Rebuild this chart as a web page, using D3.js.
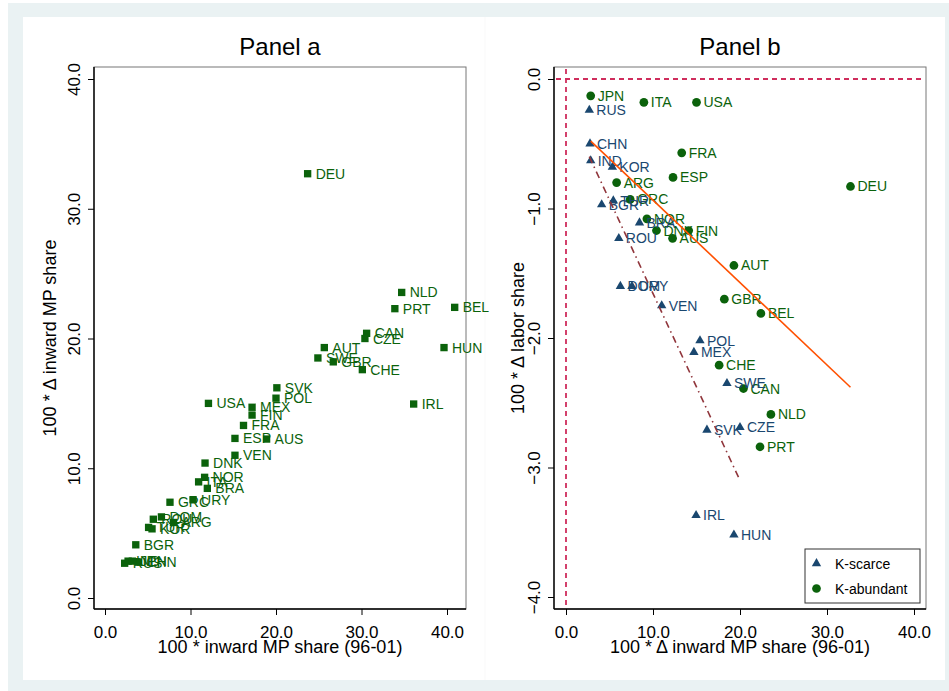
<!DOCTYPE html>
<html>
<head>
<meta charset="utf-8">
<script src="https://cdn.jsdelivr.net/npm/d3@7"></script>
<style>
  body { margin: 0; background: #fff; }
  text { font-family: "Liberation Sans", Arial, sans-serif; }
</style>
</head>
<body>
<svg id="chart" width="949" height="691"></svg>
<script>
// country codes
let countries = ['DEU', 'NLD', 'PRT', 'BEL', 'CAN', 'CZE', 'AUT', 'HUN', 'SWE', 'GBR',
    'CHE', 'SVK', 'POL', 'USA', 'MEX', 'FIN', 'IRL', 'FRA', 'ESP', 'AUS',
    'VEN', 'DNK', 'NOR', 'ITA', 'BRA', 'URY', 'GRC', 'DOM', 'ROU', 'ARG',
    'TUR', 'KOR', 'BGR', 'CHN', 'IND', 'JPN', 'RUS']
// 100 * inward MP share (96-01)  -> panel a x
let mpShare = [23.7, 34.7, 33.9, 40.9, 30.6, 30.4, 25.65, 39.65, 24.9, 26.7,
    30.1, 20.1, 20.0, 12.1, 17.2, 17.2, 36.1, 16.2, 15.2, 18.9,
    15.2, 11.7, 11.65, 10.95, 11.97, 10.3, 7.6, 6.6, 5.65, 8.0,
    5.1, 5.5, 3.6, 3.9, 2.7, 3.2, 2.3]
// 100 * change in inward MP share -> panel a y, panel b x
let mpChange = [32.7, 23.55, 22.3, 22.4, 20.4, 20.0, 19.3, 19.3, 18.5, 18.2,
    17.6, 16.2, 15.4, 15.0, 14.7, 14.1, 14.95, 13.3, 12.3, 12.25,
    11.0, 10.4, 9.3, 8.95, 8.45, 7.58, 7.38, 6.25, 6.07, 5.82,
    5.44, 5.33, 4.1, 2.76, 2.84, 2.84, 2.68]
// 100 * change in labor share -> panel b y
let laborChange = [-0.83, -2.59, -2.84, -1.81, -2.39, -2.69, -1.44, -3.52, -2.35, -1.70,
    -2.21, -2.71, -2.02, -0.18, -2.11, -1.17, -3.37, -0.57, -0.76, -1.23,
    -1.75, -1.17, -1.08, -0.18, -1.11, -1.60, -0.93, -1.60, -1.23, -0.80,
    -0.94, -0.68, -0.97, -0.50, -0.63, -0.13, -0.24]
// K = capital abundant, S = capital scarce
let kGroup = ['K', 'K', 'K', 'K', 'K', 'S', 'K', 'S', 'S', 'K',
    'K', 'S', 'S', 'K', 'S', 'K', 'S', 'K', 'K', 'K',
    'S', 'K', 'K', 'K', 'S', 'S', 'K', 'S', 'S', 'K',
    'S', 'S', 'S', 'S', 'S', 'K', 'S']

// fitted lines (end points)
let fitAbundant = [[2.84, -0.48], [32.7, -2.38]]
let fitScarce = [[2.68, -0.60], [20.0, -3.10]]

let axTicks = [0, 10, 20, 30, 40]
let labTicks = [-4, -3, -2, -1, 0]
let legendItems = [['S', 'K-scarce'], ['K', 'K-abundant']]

let green = '#0b620b', navy = '#1a476f'
let fmt = d3.format('.1f')

let data = countries.map((c, i) => ({
    code: c, level: mpShare[i], change: mpChange[i], labor: laborChange[i], group: kGroup[i]
}))

let svg = d3.select('#chart')

// background (graph region)
svg.append('rect').attr('x', 8).attr('y', 3).attr('width', 941).attr('height', 688).attr('fill', '#eaf2f3')
svg.append('rect').attr('x', 23).attr('y', 17).attr('width', 922).attr('height', 663).attr('fill', '#fff')
svg.append('line').attr('x1', 485).attr('x2', 485).attr('y1', 17).attr('y2', 680)
    .attr('stroke', '#f9f9f9')

let frameA = {left: 94, right: 466, top: 67, bottom: 609}
let frameB = {left: 554, right: 926, top: 67, bottom: 609}

let xA = d3.scaleLinear().domain([0, 40]).range([105, 447])
let yA = d3.scaleLinear().domain([0, 40]).range([598, 79])
let xB = d3.scaleLinear().domain([0, 40]).range([566, 914])
let yB = d3.scaleLinear().domain([-4, 0]).range([597, 79])

function drawFrame(g, f, xScale, yScale, yTicks, title, xTitle, yTitle, yTitleX) {
    g.append('rect')
        .attr('x', f.left).attr('y', f.top)
        .attr('width', f.right - f.left).attr('height', f.bottom - f.top)
        .attr('fill', 'none').attr('stroke', '#777').attr('stroke-width', 1)

    let xAxis = d3.axisBottom(xScale).tickValues(axTicks).tickFormat(fmt).tickSize(6).tickPadding(11)
    let yAxis = d3.axisLeft(yScale).tickValues(yTicks).tickFormat(fmt).tickSize(6)

    let gx = g.append('g').attr('transform', `translate(0, ${f.bottom})`).call(xAxis)
    gx.select('.domain').remove()
    gx.selectAll('text').attr('font-size', 17).attr('fill', '#000')
        .style('font-family', '"Liberation Sans", Arial, sans-serif')
    gx.selectAll('line').attr('stroke', '#000')

    let gy = g.append('g').attr('transform', `translate(${f.left}, 0)`).call(yAxis)
    gy.select('.domain').remove()
    gy.selectAll('line').attr('stroke', '#000')
    gy.selectAll('text')
        .attr('x', null).attr('dy', null)
        .attr('text-anchor', 'middle')
        .attr('transform', 'translate(-14, 0) rotate(-90)')
        .attr('font-size', 17).attr('fill', '#000')
        .style('font-family', '"Liberation Sans", Arial, sans-serif')

    // axis lines
    g.append('line').attr('x1', f.left).attr('x2', f.left).attr('y1', f.top).attr('y2', f.bottom)
        .attr('stroke', '#000').attr('stroke-width', 1.4)
    g.append('line').attr('x1', f.left).attr('x2', f.right).attr('y1', f.bottom).attr('y2', f.bottom)
        .attr('stroke', '#000').attr('stroke-width', 1.4)

    let cx = (f.left + f.right) / 2
    let cy = (f.top + f.bottom) / 2
    g.append('text').attr('x', cx).attr('y', 55).attr('text-anchor', 'middle')
        .attr('font-size', 24).text(title)
    g.append('text').attr('x', cx).attr('y', 653).attr('text-anchor', 'middle')
        .attr('font-size', 18).text(xTitle)
    g.append('text').attr('text-anchor', 'middle').attr('font-size', 18)
        .attr('transform', `translate(${yTitleX}, ${cy}) rotate(-90)`)
        .text(yTitle)
}

// ---------- Panel a ----------
let gA = svg.append('g')
drawFrame(gA, frameA, xA, yA, axTicks, 'Panel a', '100 * inward MP share (96-01)',
    '100 * \u0394 inward MP share', 56)

gA.selectAll('.sq')
        .data(data)
    .enter().append('path')
        .attr('transform', d => `translate(${xA(d.level)}, ${yA(d.change)})`)
        .attr('d', d3.symbol().type(d3.symbolSquare).size(54))
        .attr('fill', green)

gA.selectAll('.lab')
        .data(data)
    .enter().append('text')
        .attr('x', d => xA(d.level) + 8)
        .attr('y', d => yA(d.change) + 5)
        .attr('font-size', 14)
        .attr('fill', green)
        .text(d => d.code)

// ---------- Panel b ----------
let gB = svg.append('g')
drawFrame(gB, frameB, xB, yB, labTicks, 'Panel b', '100 * \u0394 inward MP share (96-01)',
    '100 * \u0394 labor share', 524)

// reference lines at zero
gB.append('line')
    .attr('x1', frameB.left + 2).attr('x2', frameB.right - 3)
    .attr('y1', yB(0)).attr('y2', yB(0))
    .attr('stroke', '#cf2d5c').attr('stroke-width', 1.8).attr('stroke-dasharray', '5,4')
gB.append('line')
    .attr('x1', xB(0)).attr('x2', xB(0))
    .attr('y1', frameB.top + 2).attr('y2', frameB.bottom - 1)
    .attr('stroke', '#cf2d5c').attr('stroke-width', 1.8).attr('stroke-dasharray', '5,4')

let color = g => g == 'K' ? green : navy
let symbolFor = g => g == 'K'
    ? d3.symbol().type(d3.symbolCircle).size(60)()
    : d3.symbol().type(d3.symbolTriangle).size(38)()

gB.selectAll('.pt')
        .data(data)
    .enter().append('path')
        .attr('transform', d => `translate(${xB(d.change)}, ${yB(d.labor)})`)
        .attr('d', d => symbolFor(d.group))
        .attr('fill', d => color(d.group))

gB.selectAll('.lab')
        .data(data)
    .enter().append('text')
        .attr('x', d => xB(d.change) + 7)
        .attr('y', d => yB(d.labor) + 5)
        .attr('font-size', 14)
        .attr('fill', d => color(d.group))
        .text(d => d.code)

let line = d3.line().x(d => xB(d[0])).y(d => yB(d[1]))
gB.append('path').datum(fitAbundant).attr('d', line)
    .attr('fill', 'none').attr('stroke', '#ff5000').attr('stroke-width', 1.6)
gB.append('path').datum(fitScarce).attr('d', line)
    .attr('fill', 'none').attr('stroke', '#90353b').attr('stroke-width', 1.6)
    .attr('stroke-dasharray', '7,4,1.5,4')

// legend
let lg = gB.append('g')
lg.append('rect').attr('x', 805).attr('y', 549).attr('width', 115).attr('height', 54)
    .attr('fill', '#fff').attr('stroke', '#333').attr('stroke-width', 1)
legendItems.forEach((it, i) => {
    let y = 563.5 + i * 25
    lg.append('path').attr('transform', `translate(816.5, ${y})`)
        .attr('d', symbolFor(it[0])).attr('fill', color(it[0]))
    lg.append('text').attr('x', 835).attr('y', y + 5).attr('font-size', 14).text(it[1])
})
</script>
</body>
</html>
